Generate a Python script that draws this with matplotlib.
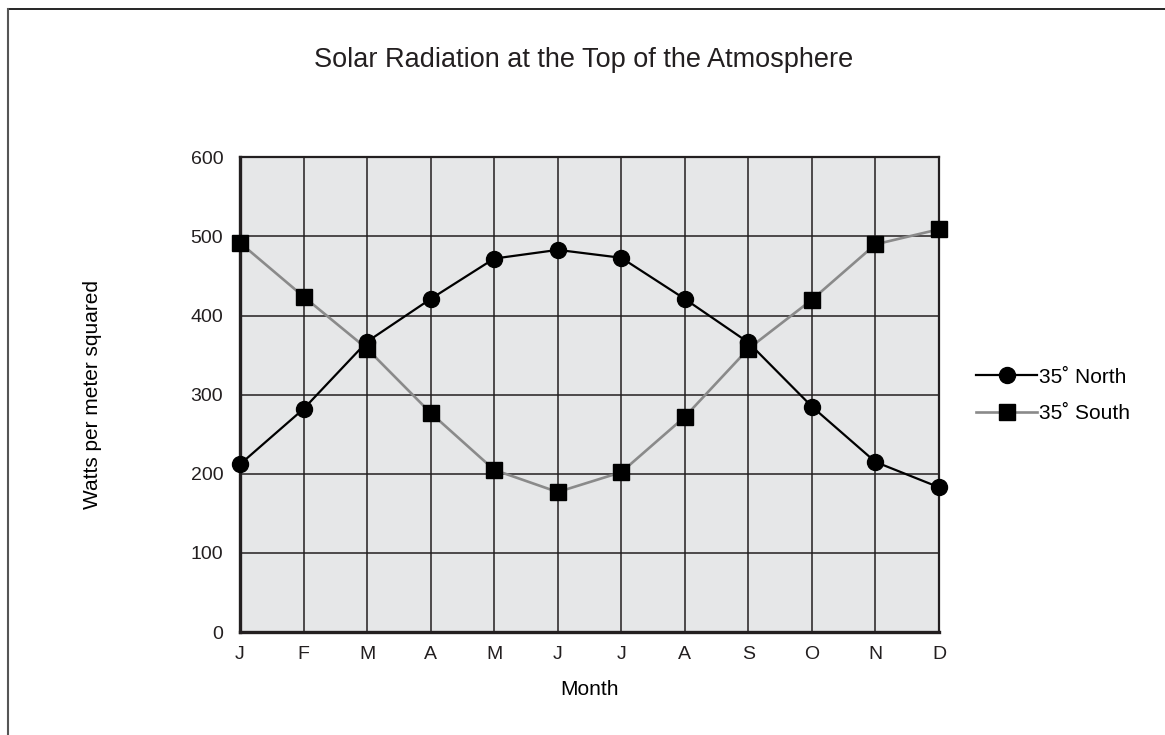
import matplotlib
matplotlib.use('Agg')
import matplotlib.pyplot as plt
from matplotlib.lines import Line2D

plt.rcParams['font.family'] = ['Liberation Sans', 'DejaVu Sans']

months = ['J', 'F', 'M', 'A', 'M', 'J', 'J', 'A', 'S', 'O', 'N', 'D']
north = [212, 282, 367, 421, 472, 483, 473, 421, 366, 285, 215, 183]
south = [492, 424, 358, 277, 205, 177, 202, 272, 358, 420, 490, 509]
yticks = [0, 100, 200, 300, 400, 500, 600]

fig = plt.figure(figsize=(11.65, 7.35), dpi=100)
ax = fig.add_axes([0.206, 0.140, 0.600, 0.646])
ax.set_facecolor('#e6e7e8')

x = list(range(len(months)))
ax.plot(x, south, color='#8a8a8a', linewidth=1.9, marker='s', markersize=12,
        markerfacecolor='black', markeredgecolor='black', label='35˚ South', zorder=3, clip_on=False)
ax.plot(x, north, color='black', linewidth=1.6, marker='o', markersize=11.5,
        markerfacecolor='black', markeredgecolor='black', label='35˚ North', zorder=4, clip_on=False)

ax.set_xlim(0, 11)
ax.set_ylim(0, 600)
ax.set_xticks(x)
ax.set_xticklabels(months)
ax.set_yticks(yticks)
ax.tick_params(axis='both', length=0, labelsize=14, colors='#231f20')
ax.tick_params(axis='y', pad=12)
ax.tick_params(axis='x', pad=10)
ax.grid(True, color='#231f20', linewidth=1.1, zorder=1)
ax.set_axisbelow(True)

for side in ['top', 'right']:
    ax.spines[side].set_linewidth(1.6)
for side in ['left', 'bottom']:
    ax.spines[side].set_linewidth(2.4)
for sp in ax.spines.values():
    sp.set_color('#231f20')
    sp.set_zorder(2)

ax.set_xlabel('Month', fontsize=15, labelpad=12)
ax.set_ylabel('Watts per meter squared', fontsize=15, labelpad=64)
fig.text(0.501, 0.918, 'Solar Radiation at the Top of the Atmosphere', fontsize=19.5,
         ha='center', va='center', color='#231f20')

handles = [
    Line2D([], [], color='black', linewidth=1.6, marker='o', markersize=11.5),
    Line2D([], [], color='#8a8a8a', linewidth=1.9, marker='s', markersize=12,
           markerfacecolor='black', markeredgecolor='black'),
]
fig.legend(handles, ['35˚ North', '35˚ South'], loc='center left',
           bbox_to_anchor=(0.822, 0.462), frameon=False, fontsize=15,
           handlelength=2.9, handletextpad=0.1, labelspacing=0.85)

# figure border on top and left
fig.add_artist(Line2D([0.007, 1.0], [0.988, 0.988], color='black', linewidth=1.2,
                      transform=fig.transFigure))
fig.add_artist(Line2D([0.007, 0.007], [0.0, 0.988], color='#555555', linewidth=1.5,
                      transform=fig.transFigure))

fig.savefig('out.png', dpi=100)
